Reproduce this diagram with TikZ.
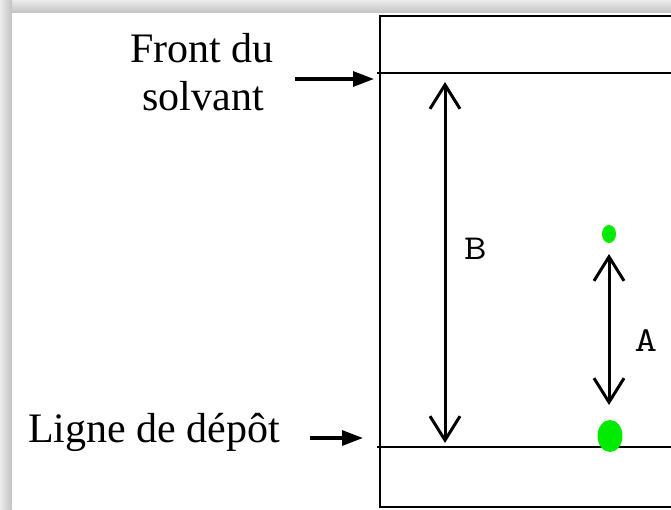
\documentclass[tikz,border=0pt]{standalone}
\usepackage{fontspec}
\setmainfont{Liberation Serif}
\usetikzlibrary{arrows.meta}
\definecolor{spotgreen}{RGB}{0,235,0}
\newcommand{\widelbl}[1]{\scalebox{1.25}[1]{#1}}
\tikzset{
  lbl/.style={font=\fontsize{42}{48}\selectfont, inner sep=0pt},
  mlbl/.style={font=\ttfamily\fontsize{35}{38}\selectfont, inner sep=0pt},
  plate/.style={line width=2.4pt},
  pointer/.style={line width=3.2pt, -{Triangle[length=21pt,width=15pt]}},
  dist/.style={line width=3pt, {Straight Barb[length=24pt,width=30pt]}-{Straight Barb[length=24pt,width=30pt]}},
  spot/.style={fill=spotgreen, draw=none}
}
\begin{document}
\begin{tikzpicture}[x=1pt,y=-1pt]
\useasboundingbox (0,0) rectangle (671,509);
% shadow frame
\fill[gray!35] (0,0) rectangle (671,509);
\shade[top color=gray!15, bottom color=gray!48] (0,0) rectangle (671,13);
\shade[left color=gray!15, right color=gray!48] (0,0) rectangle (12,509);
\fill[white] (12,13) rectangle (671,509);
% plate
\coordinate (pTR) at (672,16);
\coordinate (pTL) at (380,16);
\coordinate (pBL) at (380,507);
\coordinate (pBR) at (672,507);
\draw[plate] (pTR) -- (pTL) -- (pBL) -- (pBR);
\coordinate (fL) at (377,73);
\coordinate (fR) at (672,73);
\draw[plate] (fL) -- (fR);
\coordinate (dL) at (377,447);
\coordinate (dR) at (672,447);
\draw[plate] (dL) -- (dR);
% labels
\node[lbl, anchor=base] (front1) at (202,62) {Front du};
\node[lbl, anchor=base] (front2) at (203,110) {solvant};
\node[lbl, anchor=base west] (ligne) at (28,442) {Ligne de dépôt};
% pointer arrows
\coordinate (fa1) at (295,79);
\coordinate (fa2) at (374,79);
\draw[pointer] (fa1) -- (fa2);
\coordinate (da1) at (310,438);
\coordinate (da2) at (363,438);
\draw[pointer] (da1) -- (da2);
% distance B
\coordinate (b1) at (445,82);
\coordinate (b2) at (445,443);
\draw[dist] (b1) -- (b2);
\node[mlbl] (B) at (475.5,248.5) {\widelbl{B}};
% spots
\fill[spot] (609,234) ellipse [x radius=7, y radius=9];
\fill[spot] (610,436) ellipse [x radius=12.5, y radius=16];
% distance A
\coordinate (a1) at (609,254);
\coordinate (a2) at (609,405);
\draw[dist] (a1) -- (a2);
\node[mlbl] (A) at (646,341) {\widelbl{A}};
\end{tikzpicture}
\end{document}
